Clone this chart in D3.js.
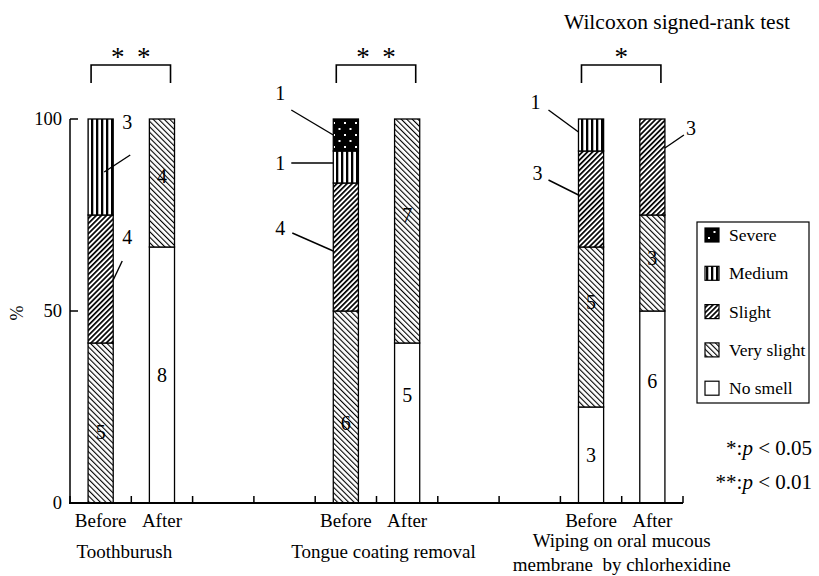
<!DOCTYPE html>
<html lang="en">
<head>
<meta charset="utf-8">
<title>Oral malodor</title>
<script src="https://cdn.jsdelivr.net/npm/d3@7"></script>
<style>
  body { margin: 0; background: #fff; }
  text { font-family: "Liberation Serif", "Times New Roman", serif; fill: #000; }
</style>
</head>
<body>
<svg id="chart"></svg>
<script>
// levels from bottom of the bar to the top
const levels = ['No smell', 'Very slight', 'Slight', 'Medium', 'Severe'];
const groups = ['Toothburush', 'Tongue coating removal', 'Wiping on oral mucous|membrane  by chlorhexidine'];
const times = ['Before', 'After'];

// number of subjects per level (n = 12)
const toothBefore = [0, 5, 4, 3, 0];
const toothAfter = [8, 4, 0, 0, 0];
const tongueBefore = [0, 6, 4, 1, 1];
const tongueAfter = [5, 7, 0, 0, 0];
const wipeBefore = [3, 5, 3, 1, 0];
const wipeAfter = [6, 3, 3, 0, 0];

const yTicks = [0, 50, 100];
const signif = [2, 2, 1]; // number of stars
const notes = ['*:', '**:'];
const pValues = ['0.05', '0.01'];

const counts = [[toothBefore, toothAfter], [tongueBefore, tongueAfter], [wipeBefore, wipeAfter]];

const width = 819, height = 576;

const svg = d3.select('#chart')
  .attr('width', width)
  .attr('height', height)
  .attr('font-family', '"Liberation Serif", serif');

// ---- patterns
const defs = svg.append('defs');

const slight = defs.append('pattern').attr('id', 'p-slight')
  .attr('patternUnits', 'userSpaceOnUse').attr('width', 3.6).attr('height', 3.6)
  .attr('patternTransform', 'rotate(45)');
slight.append('rect').attr('width', 3.6).attr('height', 3.6).attr('fill', '#fff');
slight.append('rect').attr('width', 1.7).attr('height', 3.6).attr('fill', '#000');

const vslight = defs.append('pattern').attr('id', 'p-vslight')
  .attr('patternUnits', 'userSpaceOnUse').attr('width', 3.9).attr('height', 3.9)
  .attr('patternTransform', 'rotate(-45)');
vslight.append('rect').attr('width', 3.9).attr('height', 3.9).attr('fill', '#fff');
vslight.append('rect').attr('width', 1.1).attr('height', 3.9).attr('fill', '#000');

const medium = defs.append('pattern').attr('id', 'p-medium')
  .attr('patternUnits', 'userSpaceOnUse').attr('width', 5).attr('height', 5);
medium.append('rect').attr('width', 5).attr('height', 5).attr('fill', '#fff');
medium.append('rect').attr('x', 1).attr('width', 2.3).attr('height', 5).attr('fill', '#000');

const severe = defs.append('pattern').attr('id', 'p-severe')
  .attr('patternUnits', 'userSpaceOnUse').attr('width', 11).attr('height', 12);
severe.append('rect').attr('width', 11).attr('height', 12).attr('fill', '#000');
severe.append('rect').attr('x', 3).attr('y', 2).attr('width', 2).attr('height', 2).attr('fill', '#fff');
severe.append('rect').attr('x', 8.5).attr('y', 8).attr('width', 2).attr('height', 2).attr('fill', '#fff');

const fills = {
  'No smell': '#fff',
  'Very slight': 'url(#p-vslight)',
  'Slight': 'url(#p-slight)',
  'Medium': 'url(#p-medium)',
  'Severe': 'url(#p-severe)'
};

// ---- scales
const x = d3.scaleBand()
  .domain(d3.range(10))
  .range([70, 683])
  .padding(0);

const y = d3.scaleLinear()
  .domain([0, 100])
  .range([503, 119]);

const barW = x.bandwidth() * 0.41;
const slot = (g, t) => g * 4 + t;
const barX = (g, t) => x(slot(g, t)) + (x.bandwidth() - barW) / 2;

// build segments
const segments = [];
counts.forEach((pair, g) => {
  pair.forEach((arr, t) => {
    const total = d3.sum(arr);
    let acc = 0;
    arr.forEach((c, i) => {
      if (c > 0) {
        segments.push({ g, t, level: levels[i], count: c, y0: acc / total * 100, y1: (acc + c) / total * 100 });
      }
      acc += c;
    });
  });
});

const segKey = (g, t, level) => `${g}-${t}-${level}`;

// ---- bars
svg.append('g')
  .selectAll('rect')
  .data(segments)
  .enter().append('rect')
  .attr('x', (d) => barX(d.g, d.t))
  .attr('y', (d) => y(d.y1))
  .attr('width', barW)
  .attr('height', (d) => y(d.y0) - y(d.y1))
  .attr('fill', (d) => fills[d.level])
  .attr('stroke', '#000')
  .attr('stroke-width', 1.3);

// ---- axes
const axis = svg.append('g');
axis.append('line')
  .attr('x1', 70).attr('x2', 70)
  .attr('y1', y(100)).attr('y2', y(0))
  .attr('stroke', '#000').attr('stroke-width', 1.5);
axis.append('line')
  .attr('x1', 69).attr('x2', 683)
  .attr('y1', y(0)).attr('y2', y(0))
  .attr('stroke', '#000').attr('stroke-width', 2);

axis.selectAll('.ytick')
  .data(yTicks)
  .enter().append('line')
  .attr('x1', 70).attr('x2', 78)
  .attr('y1', (d) => y(d)).attr('y2', (d) => y(d))
  .attr('stroke', '#000').attr('stroke-width', 1.5);

axis.selectAll('.ylabel')
  .data(yTicks)
  .enter().append('text')
  .attr('x', 62)
  .attr('y', (d) => y(d))
  .attr('dy', '0.35em')
  .attr('text-anchor', 'end')
  .style('font-size', '18.5px')
  .text((d) => d);

axis.selectAll('.xtick')
  .data(d3.range(11))
  .enter().append('line')
  .attr('x1', (d) => 70 + d * x.bandwidth())
  .attr('x2', (d) => 70 + d * x.bandwidth())
  .attr('y1', y(0)).attr('y2', y(0) - 7)
  .attr('stroke', '#000').attr('stroke-width', 1.5);

svg.append('text')
  .attr('transform', `translate(23,${y(50) + 2}) rotate(-90)`)
  .attr('text-anchor', 'middle')
  .style('font-size', '18px')
  .text('%');

// Before / After labels
const cats = [];
groups.forEach((g, gi) => times.forEach((t, ti) => cats.push({ gi, ti, t })));
svg.append('g')
  .selectAll('text')
  .data(cats)
  .enter().append('text')
  .attr('x', (d) => x(slot(d.gi, d.ti)) + x.bandwidth() / 2)
  .attr('y', 527)
  .attr('text-anchor', 'middle')
  .style('font-size', '19px')
  .text((d) => d.t);

// group names
groups.forEach((name, gi) => {
  const cx = x(slot(gi, 1));
  const lines = name.split('|');
  const t = svg.append('text')
    .attr('text-anchor', 'middle')
    .style('font-size', '19px')
    .attr('xml:space', 'preserve');
  lines.forEach((l, li) => {
    t.append('tspan')
      .attr('x', cx - (gi === 0 ? 7 : gi === 1 ? -7 : 0))
      .attr('y', lines.length > 1 ? 547 + li * 24 : 558)
      .text(l);
  });
});

// ---- in-bar labels and callouts
// callouts: leader line from the bar edge out to a label
const callouts = [
  { g: 0, t: 0, level: 'Medium', side: 1, inset: 9, endDy: 5, run: 26, rise: 17, lx: -3, ly: -33 },
  { g: 0, t: 0, level: 'Slight', side: 1, inset: 0, endDy: 1, run: 9, rise: 19, lx: 5, ly: -24 },
  { g: 1, t: 0, level: 'Severe', side: -1, inset: 0, endDy: 0, run: 42, rise: 25, lx: -11, ly: -17 },
  { g: 1, t: 0, level: 'Medium', side: -1, inset: 0, endDy: -4, run: 42, rise: 0, lx: -11, ly: 0 },
  { g: 1, t: 0, level: 'Slight', side: -1, inset: 0, endDy: 4, run: 41, rise: 18, lx: -12, ly: -5 },
  { g: 2, t: 0, level: 'Medium', side: -1, inset: 0, endDy: -3, run: 30, rise: 22, lx: -13, ly: -8 },
  { g: 2, t: 0, level: 'Slight', side: -1, inset: 0, endDy: -4, run: 30, rise: 15, lx: -11, ly: -7 },
  { g: 2, t: 1, level: 'Slight', side: 1, inset: 0, endDy: -19, run: 19, rise: 13, lx: 7, ly: -7 }
];
const calloutKeys = new Set(callouts.map((c) => segKey(c.g, c.t, c.level)));
// small vertical nudges for labels printed inside the bars
const nudges = { '0-0-Very slight': 9, '0-1-Very slight': -7, '1-0-Very slight': 16, '1-1-Very slight': -16, '1-1-No smell': -28, '2-0-Very slight': -25, '2-1-Very slight': -5, '2-1-No smell': -26 };

svg.append('g')
  .selectAll('text')
  .data(segments.filter((d) => !calloutKeys.has(segKey(d.g, d.t, d.level))))
  .enter().append('text')
  .attr('x', (d) => barX(d.g, d.t) + barW / 2)
  .attr('y', (d) => y((d.y0 + d.y1) / 2) + (nudges[segKey(d.g, d.t, d.level)] || 0))
  .attr('dy', '0.35em')
  .attr('text-anchor', 'middle')
  .style('font-size', '20px')
  .text((d) => d.count);

const cg = svg.append('g');
callouts.forEach((c) => {
  const s = segments.find((d) => segKey(d.g, d.t, d.level) === segKey(c.g, c.t, c.level));
  const edge = c.side > 0 ? barX(c.g, c.t) + barW - c.inset : barX(c.g, c.t) + c.inset;
  const ey = y((s.y0 + s.y1) / 2) + c.endDy;
  const sx = edge + c.side * c.run;
  const sy = ey - c.rise;
  cg.append('line')
    .attr('x1', sx).attr('y1', sy)
    .attr('x2', edge).attr('y2', ey)
    .attr('stroke', '#000').attr('stroke-width', 1.4);
  cg.append('text')
    .attr('x', sx + c.lx)
    .attr('y', sy + c.ly)
    .attr('dy', '0.35em')
    .attr('text-anchor', 'middle')
    .style('font-size', '20px')
    .text(s.count);
});

// ---- significance brackets
signif.forEach((n, gi) => {
  const left = barX(gi, 0) + 3;
  const right = barX(gi, 1) + barW - 4;
  const mid = (left + right) / 2;
  svg.append('path')
    .attr('d', `M${left},83V65H${right}V83`)
    .attr('fill', 'none')
    .attr('stroke', '#000')
    .attr('stroke-width', 1.6);
  svg.selectAll(null)
    .data(d3.range(n))
    .enter().append('text')
    .attr('x', (d) => mid + (n === 1 ? 0 : (d - 0.5) * 26))
    .attr('y', 66)
    .attr('text-anchor', 'middle')
    .style('font-size', '27px')
    .text('*');
});

svg.append('text')
  .attr('x', 790)
  .attr('y', 29)
  .attr('text-anchor', 'end')
  .style('font-size', '21.5px')
  .text('Wilcoxon signed-rank test');

// ---- legend
const legend = svg.append('g');
legend.append('rect')
  .attr('x', 697).attr('y', 222)
  .attr('width', 112).attr('height', 181)
  .attr('fill', '#fff')
  .attr('stroke', '#000')
  .attr('stroke-width', 1.2);

const legendItems = levels.slice().reverse();
const li = legend.selectAll('.item')
  .data(legendItems)
  .enter().append('g')
  .attr('transform', (d, i) => `translate(705,${235 + i * 38.3})`);
li.append('rect')
  .attr('x', 0).attr('y', -7)
  .attr('width', 14).attr('height', 14)
  .attr('fill', (d) => fills[d])
  .attr('stroke', '#000')
  .attr('stroke-width', 1.2);
li.append('text')
  .attr('x', 24)
  .attr('dy', '0.35em')
  .style('font-size', '17.5px')
  .text((d) => d);

// ---- p-value notes
notes.forEach((n, i) => {
  const t = svg.append('text')
    .attr('x', 812)
    .attr('y', 455 + i * 34)
    .attr('text-anchor', 'end')
    .attr('xml:space', 'preserve')
    .style('font-size', '21px');
  t.append('tspan').text(n);
  t.append('tspan').style('font-style', 'italic').text('p');
  t.append('tspan').text(` < ${pValues[i]}`);
});
</script>
</body>
</html>
